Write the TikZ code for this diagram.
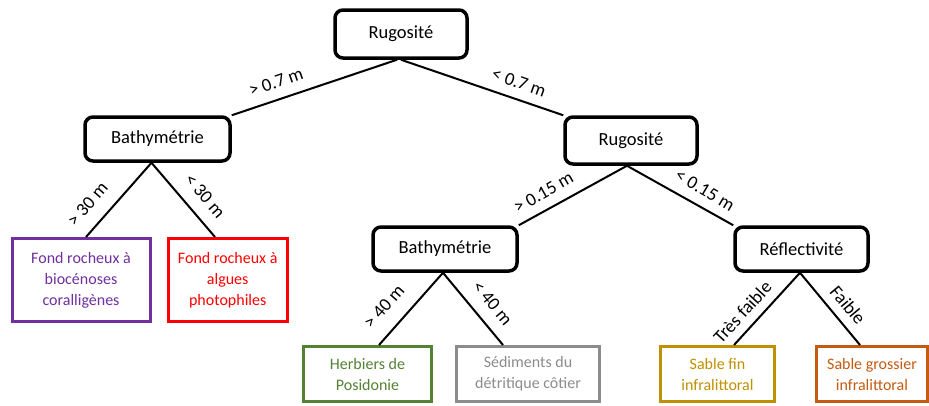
\documentclass[tikz,border=0pt]{standalone}
\usepackage{fontspec}
\setmainfont{Carlito}
\definecolor{cpurple}{HTML}{7030A0}
\definecolor{cred}{HTML}{FF0000}
\definecolor{cgreen}{HTML}{548235}
\definecolor{cgray}{HTML}{8C8C8C}
\definecolor{cgold}{HTML}{BF9000}
\definecolor{corange}{HTML}{C55A11}
\begin{document}
\begin{tikzpicture}[x=1pt,y=-1pt,
  decision/.style={draw, line width=3.5pt, rounded corners=8pt, fill=white,
    font=\fontsize{18.5}{22}\selectfont, inner sep=0pt},
  leaf/.style={draw=#1, text=#1, line width=3pt, fill=white, align=center,
    font=\fontsize{16}{21}\selectfont, inner sep=0pt},
  conn/.style={line width=2pt},
  lab/.style={font=\fontsize{18.5}{20}\selectfont, inner sep=0pt}]
\useasboundingbox (0,0) rectangle (929,405);

% decision nodes
\node[decision, minimum width=132pt, minimum height=48pt] (root) at (401,34) {Rugosité};
\node[decision, minimum width=145pt, minimum height=44pt] (bl) at (157.5,139) {Bathymétrie};
\node[decision, minimum width=132pt, minimum height=47pt] (rr) at (631,140.5) {Rugosité};
\node[decision, minimum width=144pt, minimum height=44pt] (b2) at (445,249) {Bathymétrie};
\node[decision, minimum width=133pt, minimum height=44pt] (rf) at (801.5,249) {Réflectivité};

% leaves
\node[leaf=cpurple, minimum width=138pt, minimum height=83pt] (l1) at (81,280) {Fond rocheux à\\biocénoses\\coralligènes};
\node[leaf=cred, minimum width=119pt, minimum height=83pt] (l2) at (227.7,280) {Fond rocheux à\\algues\\photophiles};
\node[leaf=cgreen, minimum width=128pt, minimum height=55pt] (l3) at (367.5,374) {Herbiers de\\Posidonie};
\node[leaf=cgray, minimum width=143pt, minimum height=55pt] (l4) at (528,374) {Sédiments du\\détritique côtier};
\node[leaf=cgold, minimum width=114pt, minimum height=55pt] (l5) at (717.5,374) {Sable fin\\infralittoral};
\node[leaf=corange, minimum width=111pt, minimum height=55pt] (l6) at (872,374) {Sable grossier\\infralittoral};

% connectors
\draw[conn] ([xshift=-4pt]root.south) -- (bl.north east);
\draw[conn] (root.south) -- (rr.north west);
\draw[conn] ([xshift=-6pt]bl.south) -- ([xshift=5pt]l1.north);
\draw[conn] ([xshift=-6pt]bl.south) -- ([xshift=-12.7pt]l2.north);
\draw[conn] ([xshift=-4pt]rr.south) -- (b2.north east);
\draw[conn] ([xshift=-4pt]rr.south) -- (rf.north west);
\draw[conn] ([xshift=-2pt]b2.south) -- ([xshift=11.5pt]l3.north);
\draw[conn] ([xshift=-2pt]b2.south) -- ([xshift=-25pt]l4.north);
\draw[conn] ([xshift=-1.5pt]rf.south) -- ([xshift=16.5pt]l5.north);
\draw[conn] ([xshift=-1.5pt]rf.south) -- ([xshift=-12pt]l6.north);

% labels
\node[lab, rotate=19] (t1) at (276,82) {> 0.7 m};
\node[lab, rotate=-19.5] (t2) at (519,82.5) {< 0.7 m};
\node[lab, rotate=48.7] (t3) at (87.5,204) {> 30 m};
\node[lab, rotate=-49] (t4) at (205,196) {< 30 m};
\node[lab, rotate=29.6] (t5) at (543.5,192.5) {> 0.15 m};
\node[lab, rotate=-30.7] (t6) at (705,190) {< 0.15 m};
\node[lab, rotate=48.4] (t7) at (384,306.5) {> 40 m};
\node[lab, rotate=-50] (t8) at (492.5,303) {< 40 m};
\node[lab, rotate=47.5] (t9) at (742.5,312) {Très faible};
\node[lab, rotate=-50.2] (t10) at (848,305) {Faible};
\end{tikzpicture}
\end{document}
